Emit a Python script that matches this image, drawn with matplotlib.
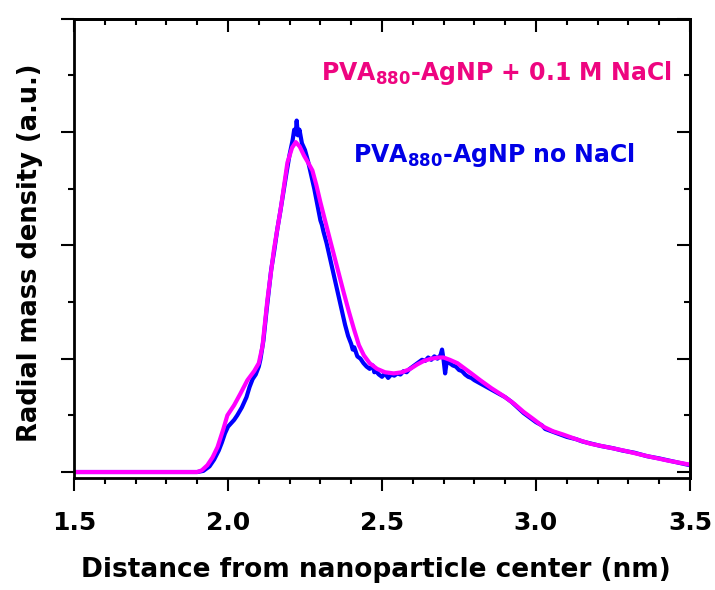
import matplotlib
matplotlib.use("Agg")
import matplotlib.pyplot as plt
from matplotlib.ticker import MultipleLocator, NullFormatter

plt.rcParams['font.family'] = 'DejaVu Sans'
plt.rcParams['font.weight'] = 'bold'
plt.rcParams['mathtext.fontset'] = 'custom'
plt.rcParams['mathtext.bf'] = 'DejaVu Sans:bold'
plt.rcParams['mathtext.rm'] = 'DejaVu Sans:bold'

# PVA880-AgNP + 0.1 M NaCl (smooth curve)
x_nacl = [1.50, 1.90, 1.915, 1.933, 1.95, 1.966, 1.985, 1.998, 2.02, 2.04, 2.063, 2.085,
          2.10, 2.112, 2.128, 2.149, 2.171, 2.193, 2.208, 2.22, 2.233, 2.247, 2.262, 2.274,
          2.287, 2.30, 2.315, 2.333, 2.355, 2.376, 2.392, 2.409, 2.425, 2.441, 2.46, 2.484,
          2.51, 2.538, 2.565, 2.592, 2.615, 2.636, 2.66, 2.685, 2.70, 2.72, 2.745, 2.765,
          2.79, 2.819, 2.855, 2.895, 2.93, 2.96, 2.99, 3.024, 3.055, 3.089, 3.13, 3.176,
          3.23, 3.284, 3.33, 3.37, 3.43, 3.50]
y_nacl = [0, 0, 0.015, 0.06, 0.13, 0.22, 0.38, 0.50, 0.59, 0.69, 0.81, 0.89,
          0.96, 1.11, 1.52, 1.96, 2.32, 2.73, 2.86, 2.91, 2.87, 2.79, 2.72, 2.66,
          2.53, 2.38, 2.22, 2.03, 1.80, 1.58, 1.42, 1.26, 1.12, 1.03, 0.96, 0.91,
          0.88, 0.87, 0.88, 0.91, 0.95, 0.98, 1.00, 1.01, 1.01, 0.99, 0.96, 0.92,
          0.87, 0.81, 0.74, 0.67, 0.60, 0.53, 0.47, 0.40, 0.36, 0.33, 0.29, 0.25,
          0.22, 0.19, 0.16, 0.135, 0.10, 0.065]

# PVA880-AgNP no NaCl (noisy curve)
x_none = [1.50, 1.90, 1.92, 1.94, 1.955, 1.97, 1.98, 1.99, 2.00, 2.01, 2.02, 2.03, 2.045,
          2.06, 2.07, 2.08, 2.09, 2.10, 2.105, 2.115, 2.125, 2.135, 2.14, 2.15, 2.16, 2.17,
          2.18, 2.19, 2.20, 2.21, 2.215, 2.22, 2.223, 2.227, 2.232, 2.24, 2.25, 2.26, 2.27,
          2.28, 2.29, 2.30, 2.305, 2.31, 2.32, 2.33, 2.34, 2.35, 2.36, 2.37, 2.38, 2.39,
          2.40, 2.405, 2.41, 2.42, 2.43, 2.44, 2.45, 2.46, 2.47, 2.475, 2.48, 2.49, 2.50,
          2.51, 2.52, 2.53, 2.54, 2.55, 2.56, 2.57, 2.58, 2.59, 2.60, 2.61, 2.62, 2.63,
          2.64, 2.65, 2.66, 2.67, 2.68, 2.69, 2.695, 2.70, 2.705, 2.71, 2.72, 2.73, 2.74,
          2.75, 2.76, 2.77, 2.78, 2.79, 2.80, 2.82, 2.84, 2.86, 2.88, 2.90, 2.92, 2.94,
          2.96, 2.98, 3.00, 3.02, 3.03, 3.05, 3.08, 3.10, 3.13, 3.15, 3.18, 3.21, 3.25,
          3.28, 3.32, 3.36, 3.40, 3.45, 3.50]
y_none = [0, 0, 0.01, 0.05, 0.11, 0.19, 0.26, 0.34, 0.40, 0.43, 0.46, 0.50, 0.57,
          0.66, 0.75, 0.82, 0.86, 0.93, 0.99, 1.16, 1.42, 1.66, 1.78, 1.95, 2.14, 2.30,
          2.47, 2.64, 2.80, 2.93, 3.02, 2.98, 3.10, 2.97, 3.02, 2.90, 2.84, 2.74, 2.62,
          2.50, 2.36, 2.22, 2.18, 2.12, 2.02, 1.90, 1.78, 1.66, 1.54, 1.42, 1.30, 1.20,
          1.13, 1.08, 1.10, 1.02, 1.00, 0.96, 0.93, 0.91, 0.94, 0.88, 0.89, 0.86, 0.84,
          0.87, 0.83, 0.86, 0.85, 0.87, 0.86, 0.89, 0.88, 0.91, 0.93, 0.95, 0.97, 0.99,
          0.98, 1.01, 0.99, 1.02, 1.00, 1.03, 1.08, 0.99, 0.87, 0.97, 0.96, 0.94, 0.93,
          0.90, 0.89, 0.86, 0.84, 0.83, 0.81, 0.78, 0.75, 0.72, 0.69, 0.66, 0.62, 0.57,
          0.52, 0.48, 0.44, 0.41, 0.38, 0.36, 0.33, 0.31, 0.29, 0.27, 0.25, 0.23, 0.21,
          0.19, 0.17, 0.14, 0.12, 0.09, 0.06]

fig = plt.figure(figsize=(7.15, 5.9), dpi=100)
ax = fig.add_axes([0.1035, 0.189, 0.8615, 0.7796])

ax.plot(x_none, y_none, color="#0000FF", linewidth=3)
ax.plot(x_nacl, y_nacl, color="#FF00FF", linewidth=3)

ax.set_xlim(1.5, 3.5)
ax.set_ylim(-0.057, 4.0)

for s in ax.spines.values():
    s.set_linewidth(2)

ax.xaxis.set_major_locator(MultipleLocator(0.5))
ax.xaxis.set_minor_locator(MultipleLocator(0.1))
ax.yaxis.set_major_locator(MultipleLocator(1))
ax.yaxis.set_minor_locator(MultipleLocator(0.5))
ax.yaxis.set_major_formatter(NullFormatter())
ax.xaxis.set_major_formatter(lambda v, p: f"{v:.1f}")
ax.tick_params(which='major', direction='out', length=9.5, width=1.5, labelsize=18, pad=14)
ax.tick_params(which='minor', direction='out', length=4.5, width=1.5)

top = ax.secondary_xaxis('top')
top.xaxis.set_major_locator(MultipleLocator(0.5))
top.xaxis.set_minor_locator(MultipleLocator(0.1))
top.tick_params(which='major', direction='in', length=9.5, width=1.5, labeltop=False)
top.tick_params(which='minor', direction='in', length=4.5, width=1.5)
top.spines['top'].set_linewidth(2)

right = ax.secondary_yaxis('right')
right.yaxis.set_major_locator(MultipleLocator(1))
right.yaxis.set_minor_locator(MultipleLocator(0.5))
right.tick_params(which='major', direction='in', length=9.5, width=1.5, labelright=False)
right.tick_params(which='minor', direction='in', length=4.5, width=1.5)
right.spines['right'].set_linewidth(2)

ax.set_xlabel("Distance from nanoparticle center (nm)", fontsize=19, fontweight='bold')
ax.xaxis.set_label_coords(0.49, -0.171)
ax.set_ylabel("Radial mass density (a.u.)", fontsize=18.5, fontweight='bold')
ax.yaxis.set_label_coords(-0.05, 0.49)

ax.text(0.971, 0.866, r"PVA$_{\mathbf{880}}$-AgNP + 0.1 M NaCl", transform=ax.transAxes,
        ha='right', va='baseline', fontsize=17, fontweight='bold', color="#EE0580")
ax.text(0.911, 0.688, r"PVA$_{\mathbf{880}}$-AgNP no NaCl", transform=ax.transAxes,
        ha='right', va='baseline', fontsize=17, fontweight='bold', color="#0000E6")

fig.savefig("out.png", dpi=100)
